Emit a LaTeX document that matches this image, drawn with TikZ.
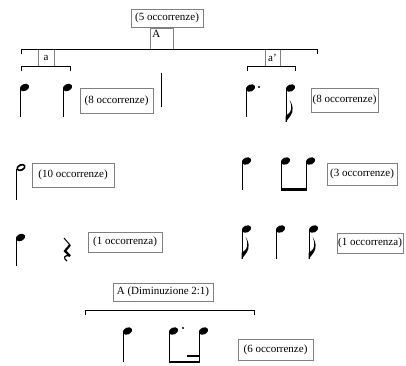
\documentclass[tikz,border=0pt]{standalone}
\usepackage{fontspec}
\setmainfont{Liberation Serif}
\begin{document}
\begin{tikzpicture}[x=1pt, y=-1pt,
    font=\fontsize{11}{13}\selectfont,
    box/.style={rectangle, draw=gray, line width=0.9pt, inner sep=0pt},
    stem/.style={line width=1.3pt},
    beam/.style={line width=2.8pt},
    brace/.style={line width=0.9pt},
    notehead/.pic={\fill[rotate=25] (0,0) ellipse (4.9 and 3.5);},
    halfhead/.pic={\fill[even odd rule, rotate=25] (0,0) ellipse (4.9 and 3.5) (0,0) ellipse (3.3 and 1.6);},
    flagdown/.pic={\fill (0,0) .. controls (4,-5) and (7.5,-8) .. (7,-14) .. controls (6.8,-17) .. (4,-22) .. controls (5.8,-17) .. (5.5,-13) .. controls (5,-9) and (2,-8) .. (0,-6) -- cycle;},
    augdot/.pic={\fill (0,0) circle (1.2);}]

    \useasboundingbox (0,0) rectangle (406,365);

    % Boxes with the labels
    \node[box, minimum width=72pt, minimum height=18pt] (occfive) at (167,18) {(5 occorrenze)};
    \node[box, minimum width=23pt, minimum height=21pt, label={[anchor=north west, inner sep=2.5pt]north west:A}] (topA) at (161.5,38.5) {};
    \node[box, minimum width=16pt, minimum height=17pt] (suba) at (46,57.5) {a};
    \node[box, minimum width=15pt, minimum height=17pt] (subb) at (272.5,57.5) {a'};
    \node[box, minimum width=73pt, minimum height=25pt] (occeightL) at (116.5,100.5) {(8 occorrenze)};
    \node[box, minimum width=67pt, minimum height=24pt] (occeightR) at (344.5,100) {(8 occorrenze)};
    \node[box, minimum width=82pt, minimum height=24pt] (occten) at (73,175) {(10 occorrenze)};
    \node[box, minimum width=70pt, minimum height=22pt] (occthree) at (362,174) {(3 occorrenze)};
    \node[box, minimum width=74pt, minimum height=20pt] (occoneL) at (125,242) {(1 occorrenza)};
    \node[box, minimum width=66pt, minimum height=20pt] (occoneR) at (370,243) {(1 occorrenza)};
    \node[box, minimum width=100pt, minimum height=18pt] (dimin) at (163,292) {A (Diminuzione 2:1)};
    \node[box, minimum width=75pt, minimum height=21pt] (occsix) at (275.5,349.5) {(6 occorrenze)};

    % Brackets
    \coordinate (mainL) at (21,49);
    \coordinate (mainR) at (317,49);
    \coordinate (subaL) at (21,66);
    \coordinate (subaR) at (70,66);
    \coordinate (subbL) at (247,66);
    \coordinate (subbR) at (295,66);
    \coordinate (diminL) at (85,310);
    \coordinate (diminR) at (254,310);
    \foreach \l/\r in {mainL/mainR, subaL/subaR, subbL/subbR, diminL/diminR} {
        \draw[brace] (\l) ++(0,5) -- (\l) -- (\r) -- ++(0,5);
    }

    % Bar line
    \draw[line width=1pt] (161,73) -- (161,107);

    % Filled note heads with their stems (centre x / centre y / stem end)
    \foreach \x/\y/\b in {24.5/87.5/117, 67.5/87.5/117, 250.5/88/117, 290.5/88/122,
                          246.5/161/190, 285.5/161/190, 310.5/161/190,
                          20.5/237.5/266, 246.5/229/259, 280.5/229/259, 313.5/229/259,
                          127.5/331/362, 173.5/331/363, 203.5/331/363} {
        \pic at (\x,\y) {notehead};
        \draw[stem] (\x-4.3,\y+1) -- (\x-4.3,\b);
    }

    % Half note
    \pic at (21,167.5) {halfhead};
    \draw[stem] (16.7,168.5) -- (16.7,200);

    % Flags
    \foreach \s/\b in {286.2/122, 242.2/259, 309.2/259} {
        \pic at (\s-0.6,\b) {flagdown};
    }

    % Dots
    \pic at (259,87) {augdot};
    \pic at (183,328) {augdot};

    % Beams
    \draw[beam] (280.6,189.4) -- (306.8,189.4);
    \draw[beam] (168.6,362) -- (199.8,362);
    \draw[line width=2.4pt] (187,356) -- (199.8,356);

    % Quarter rest
    \draw[line width=1pt] (64,238) -- (70,245);
    \draw[line width=2.2pt] (70,245) -- (65,251) -- (70,256);
    \draw[line width=1.2pt] (70,256) .. controls (64,254) and (63,259) .. (67,261);
\end{tikzpicture}
\end{document}
